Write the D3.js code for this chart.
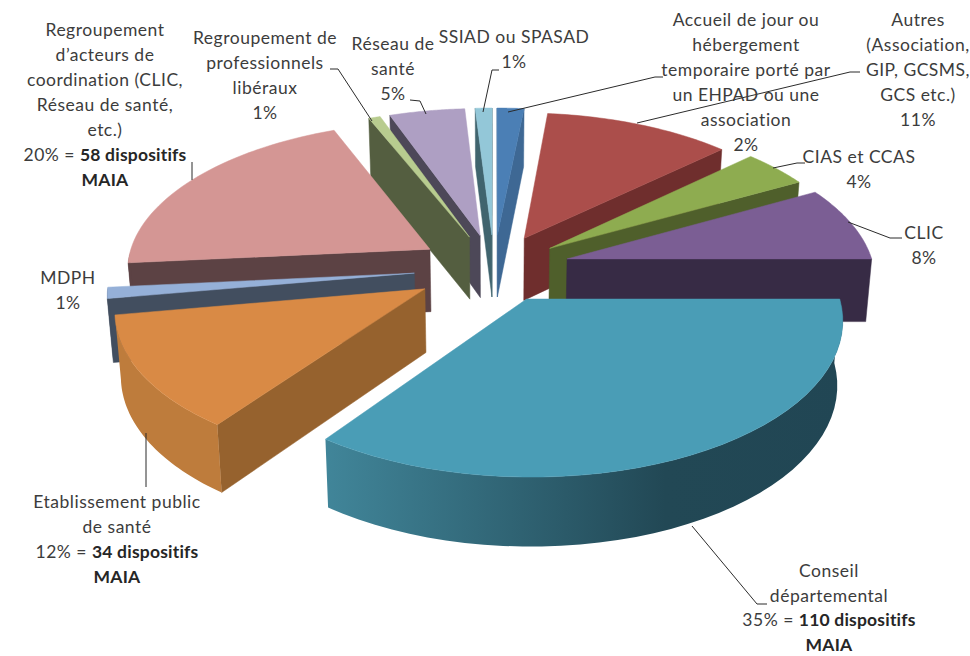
<!DOCTYPE html>
<html>
<head>
<meta charset="utf-8">
<style>
    * { margin: 0; padding: 0; }
    body { background: #fff; }
    svg { display: block; }
    text { font-family: Lato, "Open Sans", sans-serif; font-size: 17.5px; letter-spacing: 0.5px; fill: #3c3c3c; text-anchor: middle; }
    .bold { font-weight: 700; fill: #262626; letter-spacing: 0.2px; }
</style>
</head>
<body>
<svg width="970" height="656"></svg>
<script src="https://cdn.jsdelivr.net/npm/d3@7"></script>
<script>
// values, clockwise from 12 o'clock
const categories = ['Accueil', 'Autres', 'CIAS et CCAS', 'CLIC', 'Conseil départemental',
    'Etablissement public de santé', 'MDPH', 'Regroupement d\'acteurs', 'Regroupement de professionnels',
    'Réseau de santé', 'SSIAD ou SPASAD'];
const percents = [1.6, 11.4, 4, 8, 35, 12.3, 1.2, 20.3, 0.7, 4.5, 1];
const labelLines = [
    ['Accueil de jour ou', 'hébergement', 'temporaire porté par', 'un EHPAD ou une', 'association', '2%'],
    ['Autres', '(Association,', 'GIP, GCSMS,', 'GCS etc.)', '11%'],
    ['CIAS et CCAS', '4%'],
    ['CLIC', '8%'],
    ['Conseil', 'départemental', '35% = |110 dispositifs', '|MAIA'],
    ['Etablissement public', 'de santé', '12% = |34 dispositifs', '|MAIA'],
    ['MDPH', '1%'],
    ['Regroupement', 'd’acteurs de', 'coordination (CLIC,', 'Réseau de santé,', 'etc.)', '20% = |58 dispositifs', '|MAIA'],
    ['Regroupement  de', 'professionnels', 'libéraux', '1%'],
    ['Réseau de', 'santé', '5%'],
    ['SSIAD ou SPASAD', '1%']
];

// styling, same order as the slices
const topColors = ['#4b7fb5', '#ab4e4b', '#8eac50', '#7b5e94', '#4a9db6', '#d98a45', '#95b0d8', '#d49694', '#b8cc8f', '#ae9fc3', '#93c7d8'];
const wallColors = ['#3e6894', '#6f2e2d', '#4f5f2b', '#372b45', '#2f6070', '#96622e', '#424e5f', '#5c4244', '#545e40', '#4d4858', '#40646e'];
const outerColors = ['#3e6894', '#6f2e2d', '#4f5f2b', '#372b45', 'url(#tealWall)', '#be7c3c', '#424e5f', '#5c4244', '#545e40', '#4d4858', '#40646e'];
const explodes = [70, 70, 70, 76, 70, 80, 80, 76, 70, 70, 70];
const sizes = [1, 0.98, 1, 0.99, 0.985, 0.972, 0.975, 0.98, 1, 1, 1];
const labelX = [746, 918, 859, 924, 829, 117, 68, 105, 265, 393, 514];
const labelY = [20, 20, 157, 233, 570.5, 502, 278, 30, 38, 44, 37];
const leaders = [
    [[508, 112], [655, 77], [663, 77]],
    [[637, 123], [850, 72], [860, 72]],
    [[773, 168], [797, 163], [805, 163]],
    [[848, 222], [890, 238], [902, 238]],
    [[692, 526], [757, 604], [767, 604]],
    [[146, 433], [146, 487]],
    [],
    [[192, 180], [192, 162]],
    [[372, 121], [338, 69], [330, 69]],
    [[426, 114], [420, 101], [410, 100]],
    [[483, 112], [492, 70], [499, 70]]
];

const cx = 494, cy = 268;
const tilt = 0.485, focal = 2500, depth = 63;

const svg = d3.select('svg');
const radius = d3.scaleLinear().domain([0, 1]).range([0, 310]);

const defs = svg.append('defs');
const tealGrad = defs.append('linearGradient').attr('id', 'tealWall')
    .attr('gradientUnits', 'userSpaceOnUse')
    .attr('x1', 322).attr('x2', 850).attr('y1', 0).attr('y2', 0);
tealGrad.append('stop').attr('offset', '0%').attr('stop-color', '#41869a');
tealGrad.append('stop').attr('offset', '65%').attr('stop-color', '#224855');
tealGrad.append('stop').attr('offset', '100%').attr('stop-color', '#214654');

// ground plane to screen, z goes down from the top face
function project(X, Y, z) {
    const s = 1 / (1 - Y / focal);
    const narrow = 1 - 0.00025 * z;
    const drop = z * (1 + (s - 1) * 0.6);
    return [cx + X * s * narrow, cy + tilt * Y * s + drop];
}

const pie = d3.pie().sort(null).value(d => d);
const line = d3.line();

const slices = pie(percents).map((d, i) => {
    const mid = (d.startAngle + d.endAngle) / 2;
    return Object.assign(d, {
        index: i,
        mid: mid,
        r: radius(sizes[i]),
        ox: Math.sin(mid) * explodes[i],
        oy: -Math.cos(mid) * explodes[i]
    });
});

function point(d, angle, r, z) {
    return project(d.ox + Math.sin(angle) * r, d.oy - Math.cos(angle) * r, z);
}

function arcAngles(d) {
    return d3.range(0, 41).map(k => d.startAngle + (d.endAngle - d.startAngle) * k / 40);
}

function topPath(d) {
    const pts = [point(d, 0, 0, 0)].concat(arcAngles(d).map(a => point(d, a, d.r, 0)));
    return line(pts) + 'Z';
}

function cutQuad(d, angle) {
    return [point(d, 0, 0, 0), point(d, angle, d.r, 0), point(d, angle, d.r, depth), point(d, 0, 0, depth)];
}

function outerPath(d) {
    const angles = arcAngles(d).filter(a => Math.cos(a) <= 0);
    if (angles.length < 2) return null;
    const pts = angles.map(a => point(d, a, d.r, 0))
        .concat(angles.slice().reverse().map(a => point(d, a, d.r, depth)));
    return line(pts) + 'Z';
}

const order = slices.slice().sort((a, b) => a.oy - b.oy);

const groups = svg.selectAll('g.slice').data(order).join('g').attr('class', 'slice');

groups.each(function (d) {
    const g = d3.select(this);
    [d.startAngle, d.endAngle].forEach(angle => {
        const quad = cutQuad(d, angle);
        // signed area decides if the face is seen from the front
        const area = d3.polygonArea(quad);
        const facing = angle === d.startAngle ? area > 0 : area < 0;
        if (facing) {
            g.append('path').attr('d', line(quad) + 'Z').attr('fill', wallColors[d.index])
                .attr('stroke', wallColors[d.index]).attr('stroke-width', 0.5);
        }
    });
    const outer = outerPath(d);
    if (outer) {
        g.append('path').attr('d', outer).attr('fill', outerColors[d.index]);
    }
    g.append('path').attr('d', topPath(d)).attr('fill', topColors[d.index])
        .attr('stroke', topColors[d.index]).attr('stroke-width', 0.5);
});

// leader lines
svg.append('g').selectAll('path').data(leaders.filter(l => l.length)).join('path')
    .attr('d', d => line(d))
    .attr('fill', 'none')
    .attr('stroke', '#2b2b2b')
    .attr('stroke-width', 1);

// labels, a | in a line starts the bold part
const labels = svg.append('g').selectAll('g').data(labelLines).join('g');
labels.each(function (lines, i) {
    const g = d3.select(this);
    lines.forEach((txt, k) => {
        const parts = txt.split('|');
        const t = g.append('text')
            .attr('x', labelX[i])
            .attr('y', labelY[i] + k * 24.9)
            .attr('dy', '0.35em');
        t.append('tspan').text(parts[0]);
        if (parts.length > 1) t.append('tspan').attr('class', 'bold').text(parts[1]);
    });
});
</script>
</body>
</html>
